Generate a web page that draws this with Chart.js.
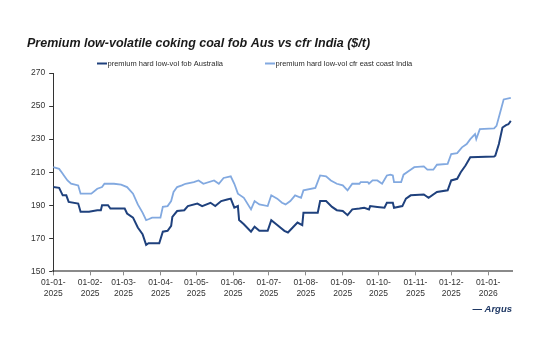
<!DOCTYPE html>
<html>
<head>
<meta charset="utf-8">
<script src="https://cdn.jsdelivr.net/npm/chart.js@4.4.1/dist/chart.umd.min.js"></script>
<style>
html,body{margin:0;padding:0;background:#ffffff;}
#wrap{width:553px;height:361px;position:relative;}
</style>
</head>
<body>
<div id="wrap"><canvas id="c"></canvas></div>
<script>
const chartTitle = 'Premium low-volatile coking coal fob Aus vs cfr India ($/t)';
const sourceText = '\u2014 Argus';
const seriesNames = ['premium hard low-vol fob Australia', 'premium hard low-vol cfr east coast India'];

const fobDates = ['2025-01-01','2025-01-06','2025-01-09','2025-01-12','2025-01-14','2025-01-22','2025-01-24','2025-01-31','2025-02-07','2025-02-10','2025-02-11','2025-02-16','2025-02-18','2025-03-02','2025-03-04','2025-03-09','2025-03-13','2025-03-17','2025-03-20','2025-03-22','2025-03-31','2025-04-03','2025-04-07','2025-04-10','2025-04-11','2025-04-15','2025-04-21','2025-04-24','2025-05-02','2025-05-06','2025-05-13','2025-05-17','2025-05-22','2025-05-27','2025-05-30','2025-06-02','2025-06-05','2025-06-06','2025-06-10','2025-06-16','2025-06-19','2025-06-23','2025-06-30','2025-07-03','2025-07-08','2025-07-14','2025-07-17','2025-07-21','2025-07-25','2025-07-29','2025-07-30','2025-08-11','2025-08-13','2025-08-18','2025-08-23','2025-08-27','2025-09-01','2025-09-05','2025-09-09','2025-09-15','2025-09-19','2025-09-23','2025-09-24','2025-09-30','2025-10-06','2025-10-08','2025-10-13','2025-10-14','2025-10-21','2025-10-24','2025-10-28','2025-11-08','2025-11-12','2025-11-19','2025-11-28','2025-12-01','2025-12-06','2025-12-09','2025-12-13','2025-12-17','2026-01-06','2026-01-07','2026-01-10','2026-01-13','2026-01-16','2026-01-18','2026-01-20'];
const fobValues = [201,200.5,196,196,192,191,186,186,187,187,190,190,188,188,185,182.5,176.5,172.5,166,167,167,174,174.5,177.5,183,186.5,187,189.5,191,189.5,191.5,189.5,192.5,193.5,194,188.5,189.5,181,178.5,174,177,174.5,174.5,181,178,174.5,173.5,176.5,179.5,178,185.5,185.5,192.5,192.5,189,187,186.5,184,187.5,188,188.5,187.5,189.5,189,188.5,191.5,191.5,188.5,189.5,194,196,196.5,194.5,198,199,205,206,210,214,219,219.5,220,227,237,238.5,239,241];

const cfrDates = ['2025-01-01','2025-01-06','2025-01-09','2025-01-10','2025-01-13','2025-01-16','2025-01-22','2025-01-24','2025-02-02','2025-02-07','2025-02-11','2025-02-13','2025-02-21','2025-02-27','2025-03-04','2025-03-09','2025-03-13','2025-03-17','2025-03-20','2025-03-22','2025-03-25','2025-04-01','2025-04-03','2025-04-07','2025-04-10','2025-04-12','2025-04-15','2025-04-19','2025-04-22','2025-04-29','2025-05-03','2025-05-07','2025-05-16','2025-05-20','2025-05-24','2025-05-30','2025-06-02','2025-06-03','2025-06-05','2025-06-10','2025-06-16','2025-06-19','2025-06-23','2025-06-30','2025-07-03','2025-07-08','2025-07-12','2025-07-15','2025-07-19','2025-07-23','2025-07-28','2025-07-30','2025-08-09','2025-08-13','2025-08-18','2025-08-22','2025-08-27','2025-09-01','2025-09-05','2025-09-09','2025-09-15','2025-09-16','2025-09-22','2025-09-23','2025-09-26','2025-09-30','2025-10-04','2025-10-08','2025-10-11','2025-10-13','2025-10-14','2025-10-20','2025-10-22','2025-10-27','2025-10-31','2025-11-08','2025-11-11','2025-11-16','2025-11-19','2025-11-28','2025-12-01','2025-12-06','2025-12-10','2025-12-14','2025-12-17','2025-12-21','2025-12-22','2025-12-25','2026-01-06','2026-01-08','2026-01-11','2026-01-14','2026-01-20'];
const cfrValues = [213,212,209,208,205,203,202,197,197,200,201,203,203,202.5,201,197,190.5,185.5,181,181.5,182.5,182.5,189,189.5,192.5,198,201,202,203,204,205,203,205,203,206.5,207.5,203,201,197,194.5,187.5,192.5,190.5,189.5,196,194,191.5,190.5,192.5,196,194.5,199,200.5,208,207.5,205,203,202,199,203,203,204,204,203,205,205,203,208,208.5,208,204,204,208.5,211,213,213.5,211.5,211.5,214.5,215,221,221.5,225,227,230,233,230,236,236.5,238,246,254,255];

const xTickDates = ['2025-01-01','2025-02-01','2025-03-01','2025-04-01','2025-05-01','2025-06-01','2025-07-01','2025-08-01','2025-09-01','2025-10-01','2025-11-01','2025-12-01','2026-01-01'];
const xEndDate = '2026-01-21';
const yTicks = [150,170,190,210,230,250,270];

const DAY = 86400000;
const T0 = Date.UTC(2025, 0, 1);
function toDay(s){ const p = s.split('-').map(Number); return Math.round((Date.UTC(p[0], p[1]-1, p[2]) - T0) / DAY); }
function dayLabel(d){
  const dt = new Date(T0 + d * DAY);
  const dd = String(dt.getUTCDate()).padStart(2,'0');
  const mm = String(dt.getUTCMonth()+1).padStart(2,'0');
  return [dd + '-' + mm + '-', String(dt.getUTCFullYear())];
}
function pts(dates, vals){ return dates.map((d,i) => ({x: toDay(d), y: vals[i]})); }

const DARK = '#1f417d';
const LIGHT = '#82a9e0';
const FONT = "'Liberation Sans', Arial, sans-serif";

const legendPlugin = {
  id: 'topLegend',
  afterDraw(chart){
    const ctx = chart.ctx;
    const y = 63.5;
    const starts = [97, 265];
    ctx.save();
    ctx.font = '7.5px ' + FONT;
    ctx.textBaseline = 'middle';
    ctx.textAlign = 'left';
    chart.data.datasets.forEach((ds, i) => {
      const x0 = starts[i];
      ctx.strokeStyle = ds.borderColor;
      ctx.lineWidth = 2;
      ctx.beginPath(); ctx.moveTo(x0, y); ctx.lineTo(x0 + 10, y); ctx.stroke();
      ctx.fillStyle = '#2b2b2b';
      ctx.fillText(ds.label, x0 + 10.5, y);
    });
    ctx.restore();
  }
};

new Chart(document.getElementById('c'), {
  type: 'line',
  data: {
    datasets: [
      { label: seriesNames[0], data: pts(fobDates, fobValues), borderColor: DARK, backgroundColor: DARK, borderWidth: 2, pointRadius: 0, tension: 0 },
      { label: seriesNames[1], data: pts(cfrDates, cfrValues), borderColor: LIGHT, backgroundColor: LIGHT, borderWidth: 1.8, pointRadius: 0, tension: 0 }
    ]
  },
  options: {
    responsive: true,
    maintainAspectRatio: false,
    animation: false,
    layout: { padding: { left: 27, right: 41, top: 0, bottom: 46 } },
    plugins: {
      legend: { display: false },
      tooltip: { enabled: false },
      title: {
        display: true, text: chartTitle, align: 'start', color: '#1a1a1a',
        font: { family: FONT, size: 12.5, weight: 'bold', style: 'italic' },
        padding: { top: 36, bottom: 22 }
      },
      subtitle: {
        display: true, text: sourceText, position: 'bottom', align: 'end', color: '#1f3864',
        font: { family: FONT, size: 9.5, weight: 'bold', style: 'italic' },
        padding: { top: 3, bottom: 0 }
      }
    },
    scales: {
      x: {
        type: 'linear', min: 0, max: toDay(xEndDate),
        afterBuildTicks: (s) => { s.ticks = xTickDates.map(d => ({ value: toDay(d) })); },
        ticks: { autoSkip: false, maxRotation: 0, color: '#333', font: { family: FONT, size: 8.5, lineHeight: 1.25 }, padding: 2, callback: (v) => dayLabel(v) },
        grid: { display: true, drawOnChartArea: false, drawTicks: true, tickLength: 4, color: '#8a8a8a', tickWidth: 1 },
        border: { display: true, color: '#8a8a8a', width: 2 }
      },
      y: {
        min: 150, max: 270,
        afterBuildTicks: (s) => { s.ticks = yTicks.map(v => ({ value: v })); },
        ticks: { color: '#333', font: { family: FONT, size: 8.5 }, padding: 4 },
        grid: { display: true, drawOnChartArea: false, drawTicks: true, tickLength: 4, color: '#333', tickWidth: 1 },
        border: { display: true, color: '#333', width: 1 }
      }
    }
  },
  plugins: [legendPlugin]
});
</script>
</body>
</html>
